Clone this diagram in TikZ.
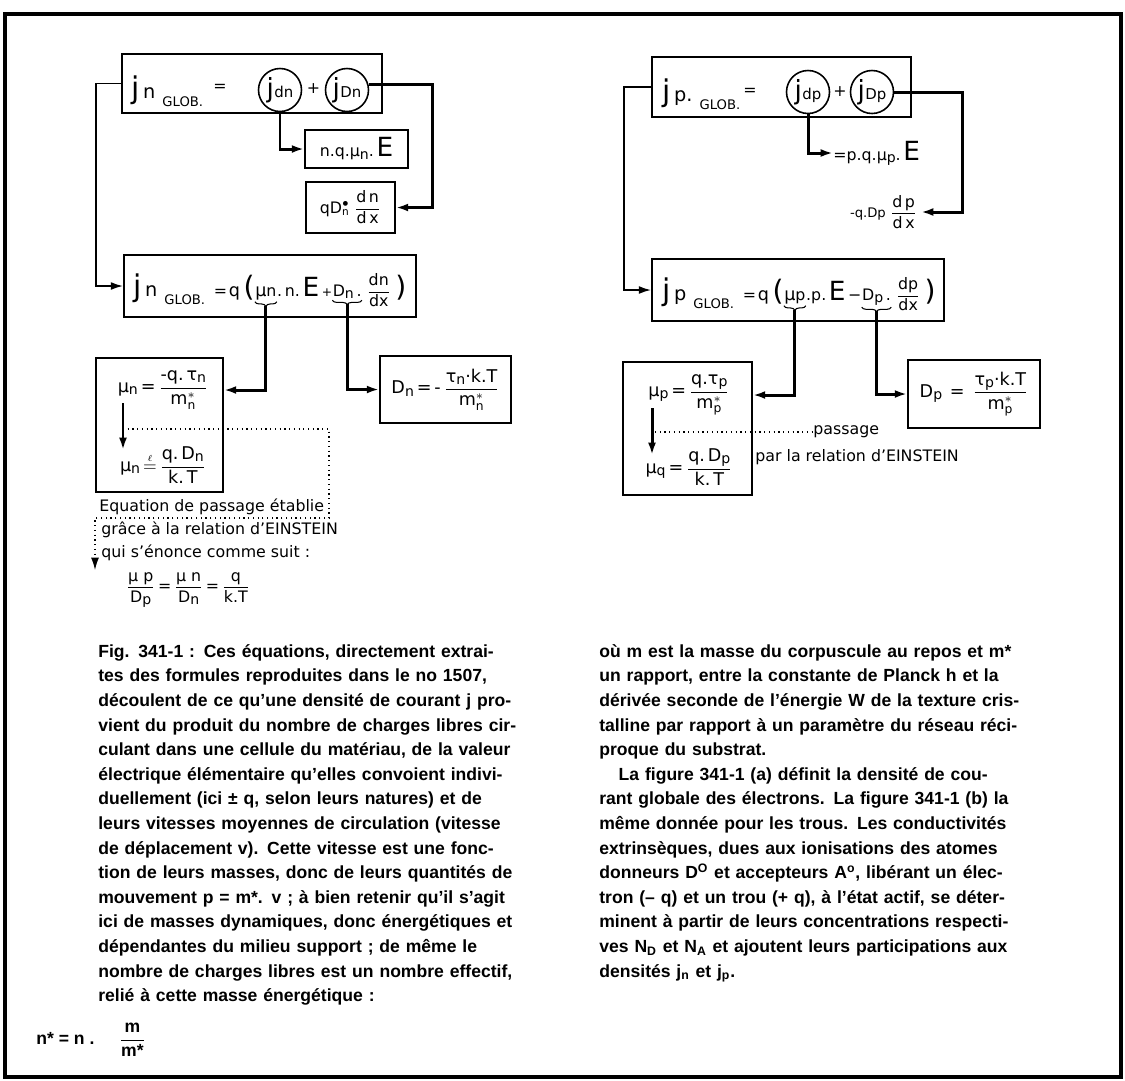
\documentclass[tikz,border=0pt]{standalone}
\usepackage{amsmath}
\usepackage{fontspec}
\setmainfont{Liberation Sans}
\newfontfamily\lettr{DejaVu Sans}
\usetikzlibrary{arrows.meta, positioning, calc, decorations.pathreplacing}

\newcommand{\fr}[2]{\ensuremath{\displaystyle\frac{\text{#1}}{\text{#2}}}}
\newcommand{\lw}[1]{\raisebox{-1.2pt}{\fontsize{8}{8}\selectfont #1}}
\newcommand{\ms}[1]{m$^{\ast}_{\text{#1}}$}
\newcommand{\bigE}{{\fontsize{15}{15}\selectfont E}}
\newcommand{\bigj}[1]{{\fontsize{15}{15}\selectfont j}\kern0.3pt{\fontsize{8.5}{8.5}\selectfont #1}}
\newcommand{\jglob}[1]{{\fontsize{17}{17}\selectfont j}\kern2pt{\fontsize{11}{11}\selectfont #1}\kern4pt\raisebox{-5pt}{\fontsize{7.5}{7.5}\selectfont GLOB.}}
\newcommand{\jl}[1]{\makebox[\linewidth][s]{#1}\par}

\tikzset{
  box/.style={draw, line width=1pt, inner sep=0pt},
  circ/.style={circle, draw, line width=0.9pt, minimum size=0.86cm, inner sep=0pt, font=\lettr},
  lt/.style={font=\lettr\fontsize{9}{11}\selectfont, inner sep=0pt},
  ltb/.style={font=\lettr\fontsize{10}{12}\selectfont, inner sep=0pt},
  tip/.style={-{Latex[length=7pt,width=4.5pt]}},
  link/.style={tip, line width=1.7pt},
  feed/.style={tip, line width=1pt},
  dots/.style={dotted, line width=0.7pt},
  brace/.style={decorate, decoration={brace, mirror, amplitude=2.5pt}, line width=0.6pt},
  caption/.style={anchor=north west, inner sep=0pt, font=\bfseries\fontsize{10}{14}\selectfont},
}

\begin{document}
\begin{tikzpicture}[x=0.02cm, y=-0.02cm]
  \useasboundingbox (0,0) rectangle (1125,1080);
  \draw[line width=2.3pt] (5,14) rectangle (1121,1077);

  % (a) electrons
  \node[box, minimum width=5.2cm, minimum height=1.18cm] (jnTop) at (252,83.5) {};
  \node[lt, anchor=base west] (jnTopL) at (131,98) {\jglob{n}};
  \node[lt] (jnTopEq) at (220,88) {=};
  \node[circ] (jdn) at (280,90) {\bigj{dn}};
  \node[circ] (jDn) at (347,90) {\bigj{Dn}};
  \node[lt] (jnPlus) at (313.5,89) {+};

  \node[box, lt, minimum width=2.06cm, minimum height=0.76cm] (driftN) at (356.5,149) {n.q.μ\lw{n}.\,\bigE};
  \node[box, lt, minimum width=1.78cm, minimum height=1.02cm] (diffN) at (350.5,207.5) {qD$^{\bullet}_{\text{n}}$\;\fr{d\,n}{d\,x}};

  \node[box, minimum width=5.84cm, minimum height=1.24cm] (jnTot) at (270,286) {};
  \node[lt, anchor=base west] (jnTotL) at (133,296) {\jglob{n}\kern5pt=\kern1pt{\fontsize{10}{10}\selectfont q}\kern2pt{\fontsize{16}{16}\selectfont (}};
  \node[lt, anchor=base west] (muNb) at (jnTotL.base east) {{\fontsize{10}{10}\selectfont μ}n};
  \node[lt, anchor=base west] (jnTotM) at (muNb.base east) {.\,n.\,\bigE\,{\fontsize{7}{7}\selectfont +}};
  \node[lt, anchor=base west] (DnB) at (jnTotM.base east) {D\lw{n}\,.};
  \node[lt, anchor=base west] (jnTotR) at (DnB.base east) {\;\fr{dn}{dx}\;{\fontsize{16}{16}\selectfont )}};
  \draw[brace] ([yshift=-1pt]muNb.south west) -- ([yshift=-1pt]muNb.south east);
  \draw[brace] ([yshift=-1pt]DnB.south west) -- ([yshift=-1pt]DnB.south east);
  \coordinate (muNbt) at ($(muNb.south)+(0,6)$);
  \coordinate (DnBt) at ($(DnB.south)+(0,6)$);

  \node[box, minimum width=2.54cm, minimum height=2.68cm] (muNbox) at (159.5,425) {};
  \node[ltb] (muNtop) at (163,390) {μ\lw{n}\,=\,\fr{-q.\,τ\lw{n}}{\ms{n}}};
  \node[ltb] (muNbot) at (163,465) {μ\lw{n}\,$\overset{\scriptscriptstyle\ell}{=}$\,\fr{q.\,D\lw{n}}{k.\,T}};
  \node[box, ltb, minimum width=2.62cm, minimum height=1.34cm] (DnBox) at (445.5,389.5) {D\lw{n}\,=\,-\,\fr{τ\lw{n}·k.T}{\ms{n}}};

  \coordinate (einN1) at (123,403);
  \coordinate (einN2) at (123,450);
  \coordinate (dotN0) at (123,429);
  \coordinate (dotN1) at (329,518);
  \coordinate (dotN2) at (95,570);
  \node[lt, anchor=west] (lblN1) at (99,507) {Equation de passage établie};
  \node[lt, anchor=west] (lblN2) at (101,530) {grâce à la relation d’EINSTEIN};
  \node[lt, anchor=west] (lblN3) at (101,553) {qui s’énonce comme suit :};
  \node[lt] (einEq) at (188,590) {\fr{μ p}{D\lw{p}}\,=\,\fr{μ n}{D\lw{n}}\,=\,\fr{q}{k.T}};

  \draw[link] (jDn.15) -- ++(64,0) |- (diffN.east);
  \draw[link] (jdn.south) |- (driftN.west);
  \draw[feed] (jnTop.west) -- ++(-25,0) |- (jnTot.west);
  \draw[link] (muNbt) |- (muNbox.east |- muNtop);
  \draw[link] (DnBt) |- (DnBox.west);
  \draw[link] (einN1) -- (einN2);
  \draw[dots, tip] (dotN0) -| (dotN1) -| (dotN2);

  % (b) holes
  \node[box, minimum width=5.18cm, minimum height=1.2cm] (jpTop) at (781.5,87) {};
  \node[lt, anchor=base west] (jpTopL) at (662,101) {\jglob{p.}};
  \node[lt] (jpTopEq) at (750,92) {=};
  \node[circ] (jdp) at (808,92) {\bigj{dp}};
  \node[circ] (jDp) at (872,92) {\bigj{Dp}};
  \node[lt] (jpPlus) at (840,92) {+};

  \node[lt, anchor=west] (driftP) at (833,153) {=p.q.μ\lw{p}.\,\bigE};
  \node[lt, anchor=east, inner sep=2pt] (diffP) at (921,212) {{\fontsize{7.5}{7.5}\selectfont -q.Dp}\;\fr{d\,p}{d\,x}};

  \node[box, minimum width=5.84cm, minimum height=1.24cm] (jpTot) at (798,290) {};
  \node[lt, anchor=base west] (jpTotL) at (662,300) {\jglob{p}\kern5pt=\kern1pt{\fontsize{10}{10}\selectfont q}\kern2pt{\fontsize{16}{16}\selectfont (}};
  \node[lt, anchor=base west] (muPb) at (jpTotL.base east) {{\fontsize{10}{10}\selectfont μ}p};
  \node[lt, anchor=base west] (jpTotM) at (muPb.base east) {.p.\,\bigE\,{\fontsize{9}{9}\selectfont −}};
  \node[lt, anchor=base west] (DpB) at (jpTotM.base east) {D\lw{p}\,.};
  \node[lt, anchor=base west] (jpTotR) at (DpB.base east) {\;\fr{dp}{dx}\;{\fontsize{16}{16}\selectfont )}};
  \draw[brace] ([yshift=-1pt]muPb.south west) -- ([yshift=-1pt]muPb.south east);
  \draw[brace] ([yshift=-1pt]DpB.south west) -- ([yshift=-1pt]DpB.south east);
  \coordinate (muPbt) at ($(muPb.south)+(0,6)$);
  \coordinate (DpBt) at ($(DpB.south)+(0,6)$);

  \node[box, minimum width=2.58cm, minimum height=2.66cm] (muPbox) at (687.5,428.5) {};
  \node[ltb] (muPtop) at (689,395) {μ\lw{p}\,=\,\fr{q.τ\lw{p}}{\ms{p}}};
  \node[ltb] (muPbot) at (689,467) {μ\lw{q}\,=\,\fr{q.\,D\lw{p}}{k.\,T}};
  \node[box, ltb, minimum width=2.64cm, minimum height=1.36cm] (DpBox) at (974,394) {D\lw{p}\,\;=\;\,\fr{τ\lw{p}·k.T}{\ms{p}}};

  \coordinate (einP1) at (652,408);
  \coordinate (einP2) at (652,455);
  \coordinate (dotP0) at (655,432);
  \node[lt, anchor=west] (passP) at (813,432) {passage};
  \node[lt, anchor=west] (lblP) at (755,457) {par la relation d’EINSTEIN};

  \draw[link] (jDp.east) -- ++(68,0) |- (diffP.east);
  \draw[link] (jdp.south) |- (driftP.west);
  \draw[feed] (jpTop.west) -- ++(-27,0) |- (jpTot.west);
  \draw[link] (muPbt) |- (muPbox.east |- muPtop);
  \draw[link] (DpBt) |- (DpBox.west);
  \draw[link] (einP1) -- (einP2);
  \draw[dots] (dotP0) -- (passP.west);

  % caption text
  \node[caption, text width=9.1cm] (capL) at (98,644) {%
    \jl{Fig. 341-1 : Ces équations, directement extrai-}
    \jl{tes des formules reproduites dans le no 1507,}
    \jl{découlent de ce qu’une densité de courant j pro-}
    \jl{vient du produit du nombre de charges libres cir-}
    \jl{culant dans une cellule du matériau, de la valeur}
    \jl{électrique élémentaire qu’elles convoient indivi-}
    \jl{duellement (ici ± q, selon leurs natures) et de}
    \jl{leurs vitesses moyennes de circulation (vitesse}
    \jl{de déplacement v). Cette vitesse est une fonc-}
    \jl{tion de leurs masses, donc de leurs quantités de}
    \jl{mouvement p = m*. v ; à bien retenir qu’il s’agit}
    \jl{ici de masses dynamiques, donc énergétiques et}
    \jl{dépendantes du milieu support ; de même le}
    \jl{nombre de charges libres est un nombre effectif,}
    relié à cette masse énergétique :\par};
  \node[caption, anchor=west] (nStar) at (36,1040) {n* = n .\hspace{1.4em}\fr{m}{m*}};

  \node[caption, text width=9.56cm] (capR) at (599,644) {%
    \jl{où m est la masse du corpuscule au repos et m*}
    \jl{un rapport, entre la constante de Planck h et la}
    \jl{dérivée seconde de l’énergie W de la texture cris-}
    \jl{talline par rapport à un paramètre du réseau réci-}
    proque du substrat.\par
    \jl{\hspace*{1.1em}La figure 341-1 (a) définit la densité de cou-}
    \jl{rant globale des électrons. La figure 341-1 (b) la}
    \jl{même donnée pour les trous. Les conductivités}
    \jl{extrinsèques, dues aux ionisations des atomes}
    \jl{donneurs D\textsuperscript{O} et accepteurs A\textsuperscript{o}, libérant un élec-}
    \jl{tron (– q) et un trou (+ q), à l’état actif, se déter-}
    \jl{minent à partir de leurs concentrations respecti-}
    \jl{ves N\textsubscript{D} et N\textsubscript{A} et ajoutent leurs participations aux}
    densités j\textsubscript{n} et j\textsubscript{p}.\par};
\end{tikzpicture}
\end{document}
